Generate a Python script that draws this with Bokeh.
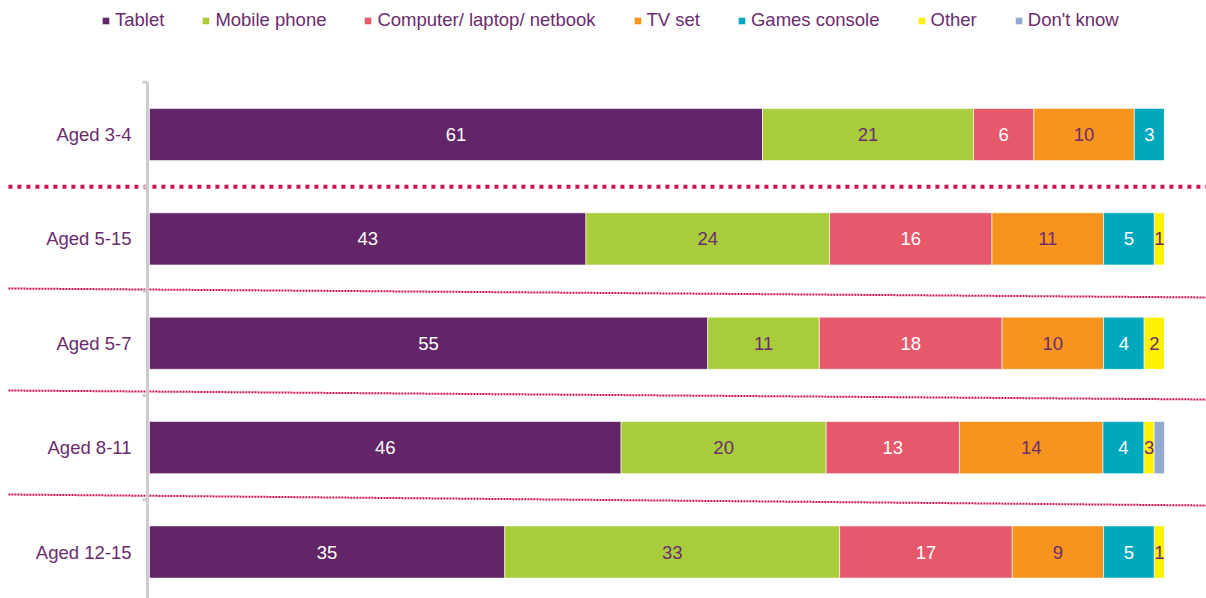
from bokeh.plotting import figure
from bokeh.models import ColumnDataSource, Range1d, Legend, LegendItem
from bokeh.core.properties import value
from bokeh.embed import file_html
from bokeh.resources import INLINE

# ---------------- data ----------------
categories = ["Aged 3-4", "Aged 5-15", "Aged 5-7", "Aged 8-11", "Aged 12-15"]
series_names = ["Tablet", "Mobile phone", "Computer/ laptop/ netbook", "TV set",
                "Games console", "Other", "Don't know"]
tablet = [61, 43, 55, 46, 35]
mobile_phone = [21, 24, 11, 20, 33]
computer = [6, 16, 18, 13, 17]
tv_set = [10, 11, 10, 14, 9]
games_console = [3, 5, 4, 4, 5]
other = [0, 1, 2, 1, 1]
dont_know = [0, 0, 0, 1, 0]
# data labels as printed on the chart
tablet_labels = ["61", "43", "55", "46", "35"]
mobile_labels = ["21", "24", "11", "20", "33"]
computer_labels = ["6", "16", "18", "13", "17"]
tv_labels = ["10", "11", "10", "14", "9"]
games_labels = ["3", "5", "4", "4", "5"]
other_labels = ["", "1", "2", "3", "1"]
dont_know_labels = ["", "", "", "", ""]

# ---------------- style ----------------
series_values = [tablet, mobile_phone, computer, tv_set, games_console, other, dont_know]
series_labels = [tablet_labels, mobile_labels, computer_labels, tv_labels,
                 games_labels, other_labels, dont_know_labels]
colors = ["#622567", "#a9cc3a", "#e5596b", "#f7941e", "#00a8be", "#fff200", "#93a9cf"]
purple_text = "#6b2c6e"
label_colors = ["white", purple_text, "white", purple_text, "white", purple_text, purple_text]
FONT_NAME = "Liberation Sans"
FONT = value(FONT_NAME)
FS = "18.5px"

p = figure(width=1206, height=598,
           x_range=Range1d(-14.68, 104.14),
           y_range=Range1d(4.4455, -1.2838),
           output_backend="svg", toolbar_location=None,
           x_axis_location=None, y_axis_location=None,
           min_border=0, outline_line_color=None,
           background_fill_color="white", border_fill_color="white")
p.grid.visible = False

ys = list(range(len(categories)))
totals = [sum(s[i] for s in series_values) for i in range(len(categories))]

# separators (dotted)
p.line(x=[-13.9, 104.2], y=[0.5, 0.5], line_color="#d3104f", line_width=4,
       line_dash="4 5")
sep_left = [1.4754, 2.4527, 3.4491]
sep_right = [1.5614, 2.5389, 3.5545]
p.multi_line(xs=[[-13.9, 104.2]] * 3,
             ys=[[a, b] for a, b in zip(sep_left, sep_right)],
             line_color="#d3104f", line_width=2, line_dash="2 1")

# vertical category axis line + ticks
p.segment(x0=[-0.2], y0=[-0.5], x1=[-0.2], y1=[4.6], line_color="#cccccc", line_width=3)
p.segment(x0=[-0.69] * 5, y0=[-0.5, 0.5, 1.5, 2.5, 3.5],
          x1=[-0.2] * 5, y1=[-0.5, 0.5, 1.5, 2.5, 3.5],
          line_color="#cccccc", line_width=3)

# stacked (100%) bars
left = [0.0] * len(categories)
renderers = []
lab_x, lab_y, lab_t, lab_c = [], [], [], []
for vals, labs, col, lcol in zip(series_values, series_labels, colors, label_colors):
    pct = [v / t * 100 for v, t in zip(vals, totals)]
    right = [l + w for l, w in zip(left, pct)]
    src = ColumnDataSource(dict(y=ys, left=left, right=right))
    r = p.hbar(y="y", left="left", right="right", height=0.5, source=src,
               fill_color=col, line_color="white", line_alpha=0.6, line_width=1)
    renderers.append(r)
    for i in range(len(categories)):
        if labs[i]:
            lab_x.append((left[i] + right[i]) / 2)
            lab_y.append(ys[i])
            lab_t.append(labs[i])
            lab_c.append(lcol)
    left = right

p.text(x="x", y="y", text="t", text_color="c",
       source=ColumnDataSource(dict(x=lab_x, y=lab_y, t=lab_t, c=lab_c)),
       text_font=FONT, text_font_size=FS, text_align="center", text_baseline="middle")

# category labels
p.text(x=[0] * len(categories), y=ys, text=categories, x_offset=-18,
       text_font=FONT, text_font_size=FS, text_color=purple_text,
       text_align="right", text_baseline="middle")

legend = Legend(items=[LegendItem(label=n, renderers=[r]) for n, r in zip(series_names, renderers)],
                orientation="horizontal", location=(101, 567),
                glyph_width=9, glyph_height=9, label_standoff=5, spacing=37,
                label_text_font=FONT_NAME, label_text_font_size=FS,
                label_text_color=purple_text, label_height=9,
                padding=0, margin=0, border_line_alpha=0, background_fill_alpha=0)
p.add_layout(legend)

open("out.html", "w").write(file_html(p, INLINE))
